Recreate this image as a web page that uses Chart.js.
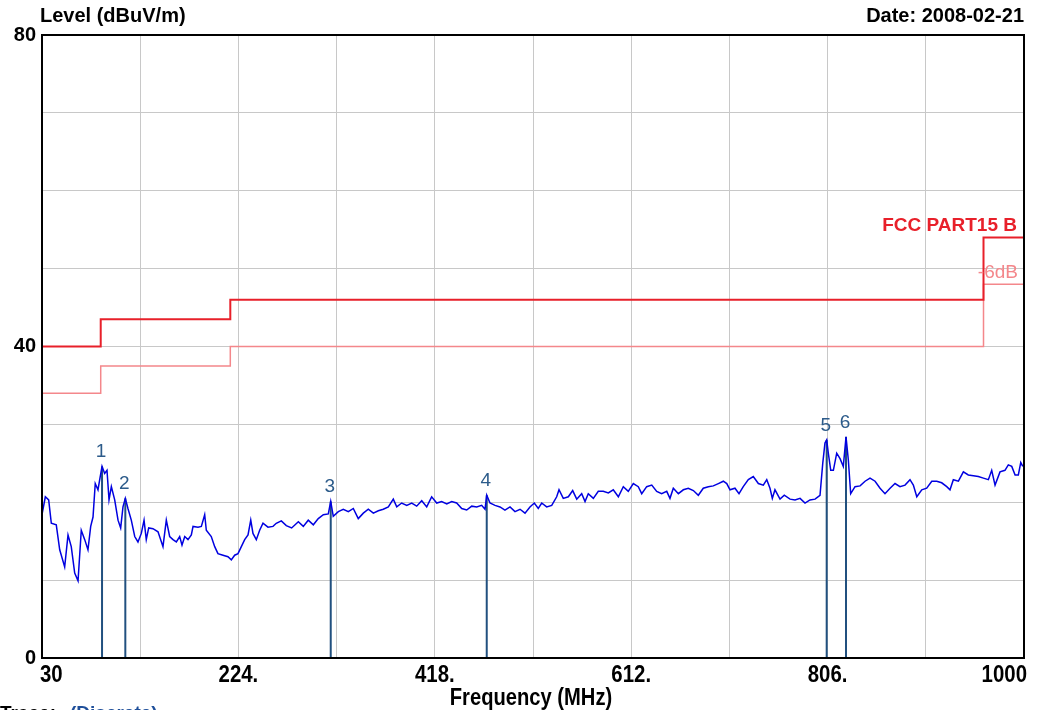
<!DOCTYPE html>
<html>
<head>
<meta charset="utf-8">
<script src="https://cdn.jsdelivr.net/npm/chart.js@4.4.1/dist/chart.umd.min.js"></script>
<style>
  html, body { margin: 0; padding: 0; background: #fff; }
  #wrap { width: 1049px; height: 710px; }
</style>
</head>
<body>
<div id="wrap"><canvas id="emichart" width="1049" height="710"></canvas></div>
<script>
const traceFreq = [
  30.0, 33.3, 36.6, 39.2, 44.1, 47.5, 52.4, 55.7, 58.9, 62.3, 65.6, 68.8, 72.2, 75.4, 78.1, 80.4,
  82.6, 85.3, 87.0, 89.3, 91.9, 94.2, 96.2, 98.5, 101.8, 105.1, 107.7, 110.0, 112.3, 114.9, 118.2,
  121.6, 124.8, 128.1, 130.8, 133.0, 135.4, 139.6, 144.6, 149.5, 152.8, 156.1, 159.4, 162.7, 166.0,
  168.3, 171.0, 174.2, 177.5, 179.2, 184.1, 187.4, 190.7, 192.3, 197.2, 200.6, 203.8, 208.8, 213.7,
  217.0, 220.3, 223.6, 226.9, 230.2, 233.5, 236.2, 238.4, 241.7, 245.0, 248.3, 253.2, 258.2, 261.4,
  266.4, 271.3, 276.6, 283.2, 288.1, 293.0, 298.0, 302.9, 307.9, 312.8, 315.2, 317.7, 322.7, 327.6,
  332.6, 337.5, 342.4, 347.4, 352.3, 357.3, 362.2, 367.1, 372.1, 377.0, 380.4, 385.3, 390.3, 395.2,
  400.1, 405.1, 410.0, 414.9, 419.9, 424.8, 429.8, 434.7, 439.6, 444.6, 449.5, 454.5, 459.4, 464.3,
  467.6, 469.3, 472.5, 477.5, 482.4, 487.3, 492.3, 497.2, 502.2, 507.1, 512.0, 516.3, 520.2, 523.6,
  528.5, 533.5, 538.4, 540.7, 544.9, 549.9, 554.2, 558.2, 563.1, 566.4, 569.6, 574.6, 579.5, 584.4,
  589.4, 594.3, 599.3, 604.2, 609.1, 614.1, 619.0, 622.4, 627.3, 632.3, 637.2, 642.1, 647.1, 650.3,
  653.6, 658.6, 663.5, 668.4, 673.4, 678.3, 683.2, 688.2, 693.1, 698.1, 703.0, 706.4, 709.6, 714.5,
  718.5, 722.7, 727.7, 732.6, 737.6, 742.5, 745.9, 749.1, 751.4, 754.0, 759.0, 763.2, 768.9, 773.8,
  778.8, 783.7, 788.6, 793.6, 798.5, 801.2, 803.4, 805.1, 806.7, 809.1, 811.7, 815.0, 818.3, 821.5,
  824.2, 826.5, 828.8, 833.1, 838.1, 843.0, 847.9, 852.9, 857.8, 862.7, 867.7, 872.6, 877.5, 882.5,
  887.4, 890.7, 894.1, 899.0, 903.9, 908.9, 913.8, 918.7, 923.7, 926.9, 930.2, 935.2, 940.1, 945.0,
  950.0, 954.9, 959.9, 964.8, 968.1, 971.4, 976.3, 981.2, 984.5, 987.9, 991.2, 994.4, 996.8, 998.8
];
const traceLevel = [
  18.4, 20.7, 20.3, 17.3, 17.1, 13.9, 11.7, 15.8, 14.3, 10.9, 9.9, 16.4, 15.2, 13.9, 16.9, 18.1,
  22.4, 21.6, 22.9, 24.6, 23.7, 24.1, 20.3, 22.0, 20.3, 17.7, 16.7, 19.4, 20.5, 19.2, 17.7,
  15.6, 14.9, 16.0, 17.7, 15.2, 16.7, 16.6, 16.2, 14.3, 17.7, 15.6, 15.2, 14.9, 15.6,
  14.5, 15.6, 15.2, 15.8, 16.9, 16.8, 16.9, 18.4, 16.4, 15.6, 14.3, 13.4, 13.2, 13.0,
  12.6, 13.2, 13.4, 14.3, 15.2, 15.8, 17.7, 16.0, 15.2, 16.4, 17.3, 16.8, 16.9, 17.3,
  17.6, 17.0, 16.7, 17.5, 16.9, 17.7, 17.1, 17.9, 18.4, 18.5, 20.1, 18.2, 18.8, 19.1,
  18.8, 19.2, 17.9, 18.6, 19.1, 18.6, 18.9, 19.1, 19.4, 20.4, 19.4, 19.9, 19.6, 19.9,
  19.5, 20.2, 19.4, 20.7, 19.9, 20.1, 19.8, 20.1, 19.9, 19.2, 19.0, 19.5, 19.4, 19.6,
  19.1, 20.9, 19.9, 19.6, 19.4, 19.0, 19.4, 18.8, 19.1, 18.6, 19.4, 19.9, 19.2, 19.9,
  19.4, 19.6, 20.7, 21.6, 20.5, 20.7, 21.5, 20.4, 21.1, 20.1, 21.1, 20.5, 21.4, 21.4,
  21.2, 21.6, 20.7, 22.0, 21.4, 22.4, 22.0, 21.1, 22.0, 22.2, 21.4, 21.1, 21.4, 20.5,
  21.8, 21.1, 21.6, 21.8, 21.5, 20.9, 21.8, 22.0, 22.1, 22.4, 22.7, 22.4, 21.6, 21.8,
  21.1, 22.0, 22.9, 23.3, 22.4, 22.2, 22.9, 21.8, 20.5, 21.6, 20.4, 20.9, 20.4, 20.3,
  20.5, 19.9, 20.3, 20.4, 20.9, 25.0, 27.6, 28.0, 26.3, 24.1, 24.1, 26.3, 25.6, 24.6,
  28.4, 25.4, 21.1, 22.0, 22.1, 22.7, 23.1, 22.7, 21.8, 21.1, 21.8, 22.4, 22.0, 22.2,
  22.9, 22.2, 20.7, 21.6, 21.8, 22.7, 22.7, 22.5, 22.0, 21.6, 22.9, 22.7, 23.9, 23.5,
  23.4, 23.3, 23.1, 22.9, 24.1, 22.2, 23.9, 24.1, 24.8, 24.6, 23.5, 23.5, 25.1, 24.6
];

// Peak markers
const markerFreq = [89.3, 112.3, 315.2, 469.3, 805.1, 824.2];
const markerLevel = [24.6, 20.5, 20.1, 20.9, 28.0, 28.4];
const markerNames = ['1', '2', '3', '4', '5', '6'];

// FCC Part 15 class B limit and -6 dB margin
const limitFreq = [30, 88, 88, 216, 216, 960, 960, 1000];
const limitLevel = [40, 40, 43.5, 43.5, 46, 46, 54, 54];
const marginLevel = [34, 34, 37.5, 37.5, 40, 40, 48, 48];

// Axis ticks
const xGridFreq = [30, 127, 224, 321, 418, 515, 612, 709, 806, 903, 1000];
const xTickLabels = ['30', '', '224.', '', '418.', '', '612.', '', '806.', '', '1000'];
const yTickLabels = { 0: '0', 40: '40', 80: '80' };

const toPoints = (xs, ys) => xs.map((x, i) => ({ x: x, y: ys[i] }));

const markerSets = markerFreq.map((f, i) => ({
  data: [{ x: f, y: 0 }, { x: f, y: markerLevel[i] }],
  borderColor: '#21507f',
  borderWidth: 2,
  pointRadius: 0
}));

// narrow bold text (the original uses a condensed face)
function narrowText(ctx, text, x, y, size, squeeze, align) {
  ctx.save();
  ctx.font = 'bold ' + size + 'px "Liberation Sans", Arial, sans-serif';
  const w = ctx.measureText(text).width * squeeze;
  let left = x;
  if (align === 'center') left = x - w / 2;
  if (align === 'right') left = x - w;
  ctx.translate(left, y);
  ctx.scale(squeeze, 1);
  ctx.textAlign = 'left';
  ctx.fillText(text, 0, 0);
  ctx.restore();
  return w;
}

const overlay = {
  id: 'overlay',
  afterDraw(chart) {
    const ctx = chart.ctx;
    const xs = chart.scales.x, ys = chart.scales.y;
    const a = chart.chartArea;
    ctx.save();
    // frame
    ctx.strokeStyle = '#000';
    ctx.lineWidth = 2;
    ctx.strokeRect(a.left, a.top, a.right - a.left, a.bottom - a.top);

    // x tick labels, kept inside the plot width
    ctx.fillStyle = '#000';
    ctx.textBaseline = 'alphabetic';
    xGridFreq.forEach((f, i) => {
      const lbl = xTickLabels[i];
      if (!lbl) return;
      ctx.font = 'bold 24px "Liberation Sans", Arial, sans-serif';
      const w = ctx.measureText(lbl).width * 0.85;
      let cx = xs.getPixelForValue(f);
      cx = Math.max(a.left + w / 2 - 2, Math.min(a.right - w / 2 + 3, cx));
      narrowText(ctx, lbl, cx, 682, 24, 0.85, 'center');
    });
    narrowText(ctx, 'Frequency (MHz)', 531, 705, 24, 0.84, 'center');

    // marker numbers
    ctx.fillStyle = '#2c5b8a';
    ctx.font = '19px "Liberation Sans", Arial, sans-serif';
    ctx.textAlign = 'center';
    ctx.textBaseline = 'bottom';
    markerFreq.forEach((f, i) => {
      ctx.fillText(markerNames[i], xs.getPixelForValue(f) - 1, ys.getPixelForValue(markerLevel[i]) - 5);
    });

    // limit labels
    ctx.textAlign = 'right';
    ctx.textBaseline = 'alphabetic';
    ctx.font = 'bold 19px "Liberation Sans", Arial, sans-serif';
    ctx.fillStyle = '#e8202a';
    ctx.fillText('FCC PART15 B', a.right - 7, ys.getPixelForValue(54) - 6);
    ctx.font = '19px "Liberation Sans", Arial, sans-serif';
    ctx.fillStyle = '#f4878b';
    ctx.fillText('-6dB', a.right - 6, ys.getPixelForValue(48) - 6);

    // headers
    ctx.fillStyle = '#000';
    ctx.font = 'bold 20px "Liberation Sans", Arial, sans-serif';
    ctx.textAlign = 'left';
    ctx.fillText('Level (dBuV/m)', a.left - 2, 22);
    ctx.textAlign = 'right';
    ctx.fillText('Date: 2008-02-21', a.right, 22);

    ctx.textAlign = 'left';
    ctx.font = 'bold 19px "Liberation Sans", Arial, sans-serif';
    ctx.fillText('Trace:', 0, 719);
    ctx.fillStyle = '#1f4f9a';
    ctx.fillText('(Discrete)', 70, 719);
    ctx.restore();
  }
};

new Chart(document.getElementById('emichart'), {
  type: 'line',
  data: {
    datasets: [
      {
        data: toPoints(limitFreq, limitLevel),
        borderColor: '#e8202a',
        borderWidth: 2,
        pointRadius: 0
      },
      {
        data: toPoints(limitFreq, marginLevel),
        borderColor: '#f4878b',
        borderWidth: 1.5,
        pointRadius: 0
      },
      {
        data: toPoints(traceFreq, traceLevel),
        borderColor: '#0000e0',
        borderWidth: 1.5,
        pointRadius: 0
      },
      ...markerSets
    ]
  },
  options: {
    responsive: false,
    animation: false,
    devicePixelRatio: 1,
    layout: { padding: { top: 35, right: 25, left: 0, bottom: 0 } },
    plugins: { legend: { display: false }, tooltip: { enabled: false } },
    elements: { line: { tension: 0 } },
    scales: {
      x: {
        type: 'linear',
        min: 30,
        max: 1000,
        afterBuildTicks: s => { s.ticks = xGridFreq.map(v => ({ value: v })); },
        afterFit: s => { s.height = 52; s.paddingLeft = 0; s.paddingRight = 0; },
        ticks: { display: false },
        grid: { color: '#c8c8c8', lineWidth: 1, drawTicks: false },
        border: { color: '#000', width: 2 }
      },
      y: {
        min: 0,
        max: 80,
        afterFit: s => { s.width = 42; s.paddingTop = 0; s.paddingBottom = 0; },
        ticks: {
          stepSize: 10,
          padding: 6,
          color: '#000',
          font: { family: '"Liberation Sans", Arial, sans-serif', size: 20, weight: 'bold' },
          callback: v => (yTickLabels[v] !== undefined ? yTickLabels[v] : '')
        },
        grid: { color: '#c8c8c8', lineWidth: 1, drawTicks: false },
        border: { color: '#000', width: 2 }
      }
    }
  },
  plugins: [overlay]
});
</script>
</body>
</html>
